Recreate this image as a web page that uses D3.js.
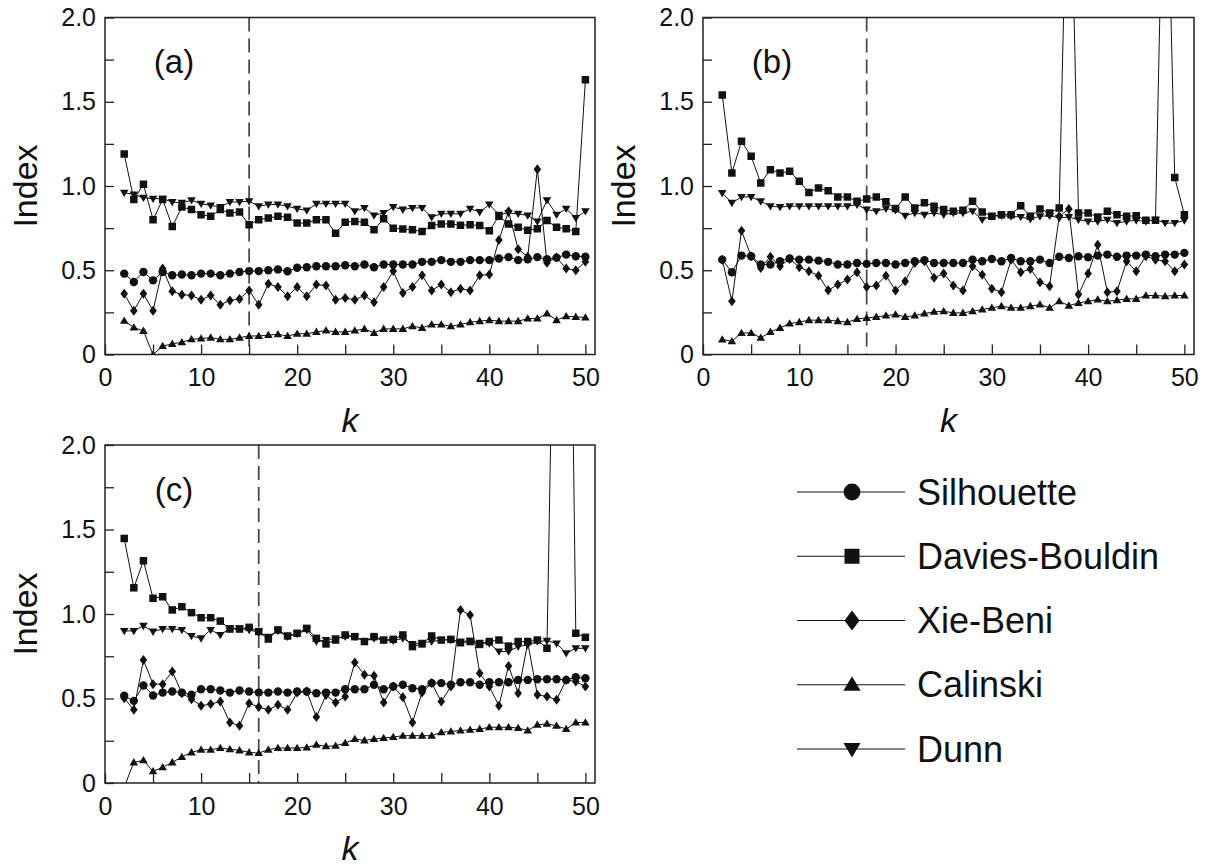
<!DOCTYPE html>
<html>
<head>
<meta charset="utf-8">
<script src="https://cdn.jsdelivr.net/npm/d3@7"></script>
<style>
  body { margin: 0; background: #fff; }
  svg text { font-family: "Liberation Sans", Arial, sans-serif; fill: #111; }
</style>
</head>
<body>
<svg id="chart" width="1205" height="867"></svg>
<script>
// k values on the x axis
const kValues = [2,3,4,5,6,7,8,9,10,11,12,13,14,15,16,17,18,19,20,21,22,23,24,25,26,
  27,28,29,30,31,32,33,34,35,36,37,38,39,40,41,42,43,44,45,46,47,48,49,50];

const seriesNames = ["Silhouette", "Davies-Bouldin", "Xie-Beni", "Calinski", "Dunn"];
const yTicks = [0, 0.25, 0.5, 0.75, 1, 1.25, 1.5, 1.75, 2];
const yLabelled = [0, 0.5, 1, 1.5, 2];
const xTicks = [0, 5, 10, 15, 20, 25, 30, 35, 40, 45, 50];
const xLabelled = [0, 10, 20, 30, 40, 50];

// panel (a)
const silA = [0.48,0.43,0.49,0.44,0.49,0.47,0.475,0.47,0.48,0.48, 0.47,0.48,0.49,0.495,0.495,0.50,0.505,0.494,0.515,0.518,
  0.524,0.524,0.524,0.53,0.524,0.534,0.518,0.534,0.534,0.534, 0.534,0.55,0.55,0.56,0.55,0.55,0.56,0.56,0.56,0.57,
  0.578,0.56,0.565,0.578,0.565,0.575,0.593,0.583,0.58];
const dbA = [1.19,0.92,1.01,0.80,0.92,0.76,0.875,0.86,0.83,0.82, 0.86,0.84,0.845,0.77,0.80,0.81,0.82,0.815,0.78,0.78,
  0.80,0.80,0.72,0.785,0.79,0.785,0.74,0.805,0.75,0.745, 0.74,0.73,0.765,0.775,0.775,0.767,0.77,0.765,0.735,0.82,
  0.775,0.755,0.737,0.747,0.795,0.755,0.747,0.73,1.63];
const xbA = [0.36,0.26,0.36,0.26,0.51,0.375,0.355,0.35,0.325,0.35, 0.295,0.32,0.33,0.38,0.295,0.42,0.40,0.345,0.40,0.345,
  0.415,0.41,0.325,0.335,0.325,0.35,0.31,0.40,0.495,0.365, 0.40,0.47,0.38,0.415,0.37,0.39,0.38,0.47,0.475,0.68,
  0.85,0.625,0.58,1.10,0.545,0.575,0.51,0.50,0.55];
const caA = [0.20,0.16,0.14,0.0,0.05,0.063,0.073,0.09,0.095,0.10, 0.09,0.09,0.10,0.11,0.11,0.115,0.12,0.11,0.123,0.123,
  0.134,0.142,0.134,0.134,0.142,0.152,0.128,0.152,0.152,0.152, 0.168,0.158,0.178,0.178,0.168,0.178,0.192,0.198,0.204,0.198,
  0.198,0.198,0.213,0.213,0.243,0.204,0.227,0.223,0.22];
const dnA = [0.96,0.95,0.93,0.925,0.925,0.905,0.90,0.915,0.895,0.885, 0.875,0.905,0.905,0.91,0.88,0.89,0.89,0.88,0.865,0.855,
  0.895,0.895,0.895,0.895,0.85,0.87,0.825,0.84,0.875,0.86, 0.87,0.87,0.815,0.835,0.835,0.835,0.865,0.845,0.89,0.83,
  0.84,0.835,0.825,0.79,0.915,0.83,0.865,0.81,0.85];

// panel (b)
const silB = [0.563,0.488,0.587,0.583,0.534,0.534,0.553,0.57,0.563,0.563, 0.557,0.55,0.534,0.534,0.543,0.538,0.543,0.543,0.534,0.543,
  0.553,0.56,0.543,0.543,0.543,0.543,0.563,0.553,0.567,0.553, 0.573,0.553,0.553,0.563,0.543,0.58,0.573,0.583,0.577,0.587,
  0.593,0.58,0.587,0.587,0.593,0.583,0.593,0.593,0.603];
const dbB = [1.54,1.077,1.265,1.176,1.018,1.097,1.077,1.087,1.028,0.962, 0.988,0.972,0.935,0.935,0.909,0.923,0.935,0.907,0.866,0.935,
  0.87,0.90,0.88,0.86,0.85,0.856,0.909,0.846,0.82,0.83, 0.83,0.883,0.82,0.864,0.84,0.87,3.4,0.84,0.84,0.816,
  0.85,0.83,0.82,0.824,0.796,0.796,3.5,1.05,0.83];
const xbB = [0.563,0.316,0.735,0.583,0.514,0.58,0.524,0.567,0.518,0.494, 0.468,0.381,0.415,0.445,0.488,0.40,0.41,0.468,0.38,0.435,
  0.543,0.553,0.455,0.48,0.41,0.38,0.524,0.474,0.39,0.37, 0.563,0.488,0.508,0.429,0.405,0.82,0.864,0.356,0.48,0.652,
  0.37,0.375,0.553,0.494,0.583,0.563,0.553,0.494,0.534];
const caB = [0.089,0.079,0.128,0.128,0.099,0.134,0.158,0.184,0.192,0.204, 0.204,0.204,0.198,0.192,0.211,0.217,0.223,0.231,0.237,0.223,
  0.231,0.243,0.253,0.257,0.247,0.247,0.257,0.267,0.277,0.287, 0.277,0.277,0.287,0.296,0.277,0.316,0.29,0.306,0.316,0.326,
  0.316,0.322,0.33,0.33,0.35,0.35,0.346,0.35,0.35];
const dnB = [0.958,0.90,0.935,0.935,0.909,0.88,0.875,0.88,0.88,0.88, 0.88,0.88,0.88,0.88,0.889,0.86,0.85,0.866,0.856,0.824,
  0.84,0.83,0.84,0.83,0.84,0.84,0.85,0.80,0.82,0.824, 0.82,0.816,0.804,0.82,0.824,0.81,0.816,0.80,0.79,0.79,
  0.80,0.78,0.79,0.796,0.79,0.80,0.78,0.78,0.796];

// panel (c)
const silC = [0.516,0.486,0.577,0.518,0.535,0.541,0.535,0.522,0.555,0.555, 0.547,0.535,0.547,0.541,0.535,0.535,0.541,0.535,0.541,0.541,
  0.531,0.535,0.535,0.555,0.555,0.555,0.581,0.555,0.571,0.581, 0.561,0.555,0.591,0.591,0.581,0.596,0.596,0.581,0.596,0.596,
  0.596,0.61,0.61,0.614,0.614,0.614,0.61,0.626,0.62];
const dbC = [1.447,1.155,1.315,1.093,1.102,1.024,1.043,1.008,0.978,0.978, 0.958,0.911,0.911,0.921,0.896,0.852,0.906,0.87,0.886,0.915,
  0.856,0.823,0.846,0.876,0.866,0.837,0.866,0.846,0.85,0.876, 0.807,0.823,0.87,0.846,0.85,0.83,0.837,0.82,0.837,0.846,
  0.81,0.837,0.837,0.846,0.797,4.0,5.3,0.886,0.862];
const xbC = [0.502,0.433,0.728,0.585,0.585,0.66,0.531,0.496,0.457,0.467, 0.482,0.358,0.339,0.472,0.449,0.433,0.463,0.433,0.535,0.541,
  0.39,0.52,0.476,0.512,0.713,0.64,0.634,0.476,0.571,0.508, 0.358,0.535,0.591,0.482,0.571,1.024,0.994,0.65,0.571,0.457,
  0.693,0.531,0.831,0.522,0.512,0.492,0.61,0.60,0.571];
const caC = [-0.024,0.122,0.134,0.069,0.093,0.122,0.154,0.181,0.197,0.197, 0.207,0.20,0.193,0.181,0.177,0.197,0.207,0.207,0.207,0.21,
  0.226,0.217,0.22,0.236,0.26,0.252,0.26,0.266,0.272,0.28, 0.28,0.28,0.28,0.30,0.305,0.311,0.315,0.319,0.33,0.33,
  0.33,0.325,0.311,0.344,0.35,0.339,0.319,0.358,0.358];
const dnC = [0.90,0.90,0.93,0.896,0.911,0.911,0.906,0.87,0.856,0.906, 0.876,0.915,0.915,0.906,0.892,0.866,0.90,0.866,0.882,0.906,
  0.837,0.846,0.856,0.866,0.866,0.84,0.856,0.846,0.842,0.856, 0.823,0.83,0.837,0.846,0.846,0.837,0.842,0.83,0.826,0.778,
  0.778,0.807,0.817,0.837,0.842,0.826,0.768,0.797,0.797];

const panelLabels = ["(a)", "(b)", "(c)"];
const dashedK = [15, 17, 16];

const svg = d3.select("#chart");

// marker shapes, s = scale
const markers = {
  "Silhouette": s => d3.symbol(d3.symbolCircle, Math.PI * 4.2 * 4.2 * s * s)(),
  "Davies-Bouldin": s => d3.symbol(d3.symbolSquare, 7.5 * 7.5 * s * s)(),
  "Xie-Beni": s => `M0,${-5*s}L${3.8*s},0L0,${5*s}L${-3.8*s},0Z`,
  "Calinski": s => `M0,${-4.3*s}L${4.3*s},${3*s}L${-4.3*s},${3*s}Z`,
  "Dunn": s => `M0,${4.3*s}L${4.3*s},${-3*s}L${-4.3*s},${-3*s}Z`
};

const panels = [
  {left: 105, right: 595, top: 17.5, bottom: 354.5, data: [silA, dbA, xbA, caA, dnA]},
  {left: 703, right: 1194, top: 17.5, bottom: 354.5, data: [silB, dbB, xbB, caB, dnB]},
  {left: 105, right: 595, top: 445, bottom: 783, data: [silC, dbC, xbC, caC, dnC]}
];

panels.forEach((p, i) => {
  const x = d3.scaleLinear().domain([0, 51]).range([p.left, p.right]);
  const y = d3.scaleLinear().domain([0, 2]).range([p.bottom, p.top]);

  const clipId = "clip" + i;
  svg.append("clipPath").attr("id", clipId)
    .append("rect")
      .attr("x", p.left).attr("y", p.top)
      .attr("width", p.right - p.left).attr("height", p.bottom - p.top);

  const g = svg.append("g");

  // dashed marker line
  g.append("line")
    .attr("x1", x(dashedK[i])).attr("x2", x(dashedK[i]))
    .attr("y1", p.top).attr("y2", p.bottom)
    .attr("stroke", "#444").attr("stroke-width", 1.7)
    .attr("stroke-dasharray", "14,7");

  const plot = g.append("g").attr("clip-path", `url(#${clipId})`);
  const line = d3.line().x((d, j) => x(kValues[j])).y(d => y(d));

  p.data.forEach((vals, s) => {
    plot.append("path")
      .attr("d", line(vals))
      .attr("fill", "none")
      .attr("stroke", "#111")
      .attr("stroke-width", 1);
    plot.selectAll(null).data(vals).enter().append("path")
      .attr("d", markers[seriesNames[s]](1))
      .attr("transform", (d, j) => `translate(${x(kValues[j])},${y(d)})`)
      .attr("fill", "#111");
  });

  // axes, ticks pointing inward
  const yAxis = d3.axisLeft(y).tickValues(yTicks).tickSizeInner(-9).tickSizeOuter(0).tickPadding(9)
    .tickFormat(d => yLabelled.includes(d) ? (d === 0 ? "0" : d3.format(".1f")(d)) : "");
  const yG = g.append("g").attr("transform", `translate(${p.left},0)`).call(yAxis);
  yG.select(".domain").remove();
  yG.selectAll("text").style("font-size", "25px").style("font-family", "Liberation Sans, Arial, sans-serif").attr("fill", "#111");
  yG.selectAll(".tick line").attr("stroke", "#222").attr("stroke-width", 1.3);

  const xAxis = d3.axisBottom(x).tickValues(xTicks).tickSizeInner(-10).tickSizeOuter(0).tickPadding(14)
    .tickFormat(d => xLabelled.includes(d) ? d : "");
  const xG = g.append("g").attr("transform", `translate(0,${p.bottom})`).call(xAxis);
  xG.select(".domain").remove();
  xG.selectAll("text").style("font-size", "25px").style("font-family", "Liberation Sans, Arial, sans-serif").attr("fill", "#111");
  xG.selectAll(".tick line").attr("stroke", "#222").attr("stroke-width", 1.3);

  // frame
  g.append("rect")
    .attr("x", p.left).attr("y", p.top)
    .attr("width", p.right - p.left).attr("height", p.bottom - p.top)
    .attr("fill", "none").attr("stroke", "#222").attr("stroke-width", 1.5);

  g.append("text")
    .attr("x", p.left + 69).attr("y", p.top + 44)
    .attr("text-anchor", "middle").attr("dominant-baseline", "central")
    .style("font-size", "33px")
    .text(panelLabels[i]);

  g.append("text")
    .attr("transform", `translate(${p.left - 80},${(p.top + p.bottom) / 2}) rotate(-90)`)
    .attr("text-anchor", "middle").attr("dominant-baseline", "central")
    .style("font-size", "34px")
    .text("Index");

  g.append("text")
    .attr("x", (p.left + p.right) / 2).attr("y", p.bottom + 65)
    .attr("text-anchor", "middle").attr("dominant-baseline", "central")
    .style("font-size", "34px").style("font-style", "italic")
    .text("k");
});

// legend
const legendY = d3.scalePoint().domain(seriesNames).range([492, 749]);
const legend = svg.append("g");
seriesNames.forEach(name => {
  const ly = legendY(name);
  legend.append("line")
    .attr("x1", 797).attr("x2", 905).attr("y1", ly).attr("y2", ly)
    .attr("stroke", "#111").attr("stroke-width", 1.2);
  legend.append("path")
    .attr("d", markers[name](2))
    .attr("transform", `translate(852,${ly})`)
    .attr("fill", "#111");
  legend.append("text")
    .attr("x", 917).attr("y", ly)
    .attr("dominant-baseline", "central")
    .style("font-size", "36px")
    .text(name);
});
</script>
</body>
</html>
